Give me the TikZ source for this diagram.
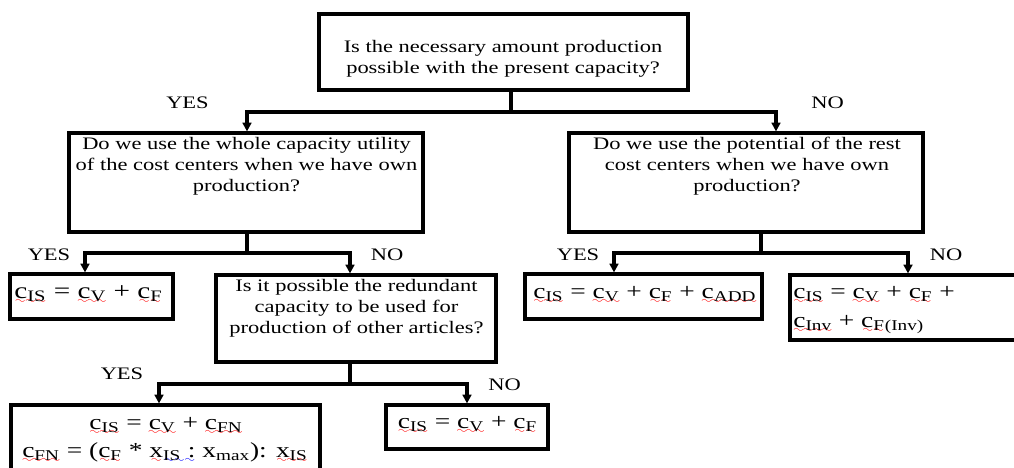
\documentclass[tikz,border=0pt]{standalone}
\usepackage{fontspec}
\setmainfont{Liberation Serif}[FakeStretch=1.28]
\usetikzlibrary{arrows.meta,fit}
\font\wavefont=lasy6
\newcommand\wavy[2]{\leavevmode\setbox0\hbox{#2}\rlap{\textcolor{#1}{\lower3.2pt\hbox to \wd0{\xleaders\hbox{\wavefont\char58}\hfil}}}\box0\relax}
\newcommand\rw[1]{\wavy{red}{#1}}
\newcommand\bw[1]{\wavy{blue}{#1}}
\newcommand\cc[1]{c\textsubscript{#1}}
\begin{document}
\begin{tikzpicture}[x=0.02cm,y=-0.02cm,
 box/.style={draw,line width=1.8pt,inner sep=0pt},
 txt/.style={align=center,inner sep=0pt,font=\fontsize{10}{11.9}\selectfont},
 eq/.style={inner sep=0pt,font=\fontsize{13}{15}\selectfont},
 eqs/.style={inner sep=0pt,font=\fontsize{12.2}{14}\selectfont},
 lab/.style={inner sep=0pt,font=\fontsize{10}{11}\selectfont},
 conn/.style={line width=1.8pt},
 arr/.style={line width=1.8pt,-{Triangle[width=5pt,length=5pt]}}]
\useasboundingbox (0,0) rectangle (1014,467);
% boxes
\node[box,fit={(319,14)(688,90)}] (q1) {};
\node[box,fit={(69,133)(423,232)}] (q2) {};
\node[box,fit={(569,133)(923,232)}] (q3) {};
\node[box,fit={(10,274)(173,319)}] (r1) {};
\node[box,fit={(216,275)(496,362)}] (q4) {};
\node[box,fit={(525,274)(762,319)}] (r2) {};
\node[box,fit={(790,275)(1030,340)}] (r3) {};
\node[box,fit={(11,405)(320,480)}] (r4) {};
\node[box,fit={(386,405)(548,449)}] (r5) {};
% connectors
\coordinate (j1) at (511,112); \coordinate (a1) at (247,112); \coordinate (b1) at (776,112);
\draw[conn] (q1.south -| j1) -- (j1);
\draw[arr] (j1) -- (a1) -- (a1 |- q2.north);
\draw[arr] (j1) -- (b1) -- (b1 |- q3.north);
\coordinate (j2) at (247,253); \coordinate (a2) at (85,253); \coordinate (b2) at (350,253);
\draw[conn] (q2.south -| j2) -- (j2);
\draw[arr] (j2) -- (a2) -- (a2 |- r1.north);
\draw[arr] (j2) -- (b2) -- (b2 |- q4.north);
\coordinate (j3) at (761,253); \coordinate (a3) at (614,253); \coordinate (b3) at (908,253);
\draw[conn] (q3.south -| j3) -- (j3);
\draw[arr] (j3) -- (a3) -- (a3 |- r2.north);
\draw[arr] (j3) -- (b3) -- (b3 |- r3.north);
\coordinate (j4) at (350,384); \coordinate (a4) at (159,384); \coordinate (b4) at (467,384);
\draw[conn] (q4.south -| j4) -- (j4);
\draw[arr] (j4) -- (a4) -- (a4 |- r4.north);
\draw[arr] (j4) -- (b4) -- (b4 |- r5.north);
% texts
\node[txt] (t1) at (503,58.5) {Is the necessary amount production\\possible with the present capacity?};
\node[txt] (t2) at (246.5,166) {Do we use the whole capacity utility\\of the cost centers when we have own\\production?};
\node[txt] (t3) at (747,166) {Do we use the potential of the rest\\cost centers when we have own\\production?};
\node[txt] (t4) at (356.5,308) {Is it possible the redundant\\capacity to be used for\\production of other articles?};
\node[eq,anchor=base] (f1) at (88.5,298) {\rw{\cc{IS}} = \rw{\cc{V}} + \rw{\cc{F}}};
\node[eqs,anchor=base west] (f2) at (533,298) {\rw{\cc{IS}} = \rw{\cc{V}} + \rw{\cc{F}} + \rw{\cc{ADD}}};
\node[eqs,anchor=base west] (f3a) at (793,298) {\rw{\cc{IS}} = \rw{\cc{V}} + \rw{\cc{F}} +};
\node[eqs,anchor=base west] (f3b) at (793,327) {\rw{\cc{Inv}} + \rw{\cc{F}}\textsubscript{(Inv)}};
\node[eqs,anchor=base] (f4a) at (166,429) {\rw{\cc{IS}} = \rw{\cc{V}} + \rw{\cc{FN}}};
\node[eqs,anchor=base] (f4b) at (165,457) {\rw{\cc{FN}} = (\rw{\cc{F}} * \rw{x}\bw{\textsubscript{IS} :} x\textsubscript{max}): \rw{x\textsubscript{IS}}};
\node[eqs,anchor=base] (f5) at (467.5,428) {\rw{\cc{IS}} = \rw{\cc{V}} + \rw{\cc{F}}};
% labels
\node[lab] (y1) at (187.5,102.5) {YES};
\node[lab] (n1) at (827.5,102.5) {NO};
\node[lab] (y2) at (49,255) {YES};
\node[lab] (n2) at (387,255) {NO};
\node[lab] (y3) at (578,255) {YES};
\node[lab] (n3) at (946,255) {NO};
\node[lab] (y4) at (122,373.5) {YES};
\node[lab] (n4) at (504.5,385) {NO};
\end{tikzpicture}
\end{document}
